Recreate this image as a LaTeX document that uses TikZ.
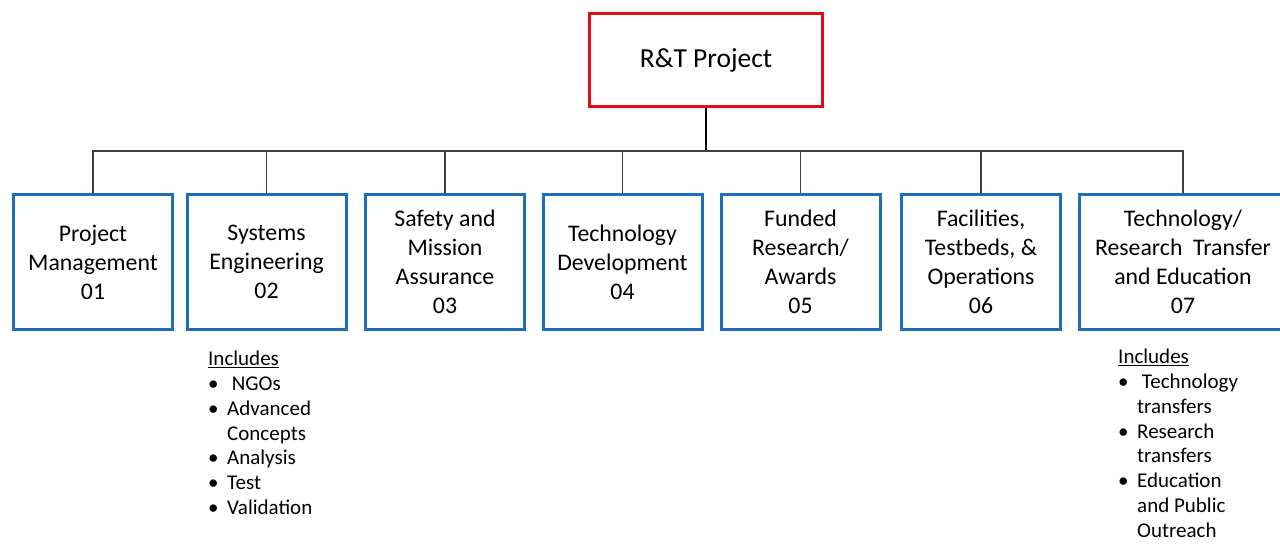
\documentclass[tikz,border=0pt]{standalone}
\usepackage{fontspec}
\setmainfont{Carlito}
\usetikzlibrary{positioning}
\definecolor{wbsblue}{RGB}{31,110,185}
\definecolor{wbsred}{RGB}{226,12,20}
\newcommand{\itm}{\makebox[19pt][l]{\textbullet}}

\begin{document}
\begin{tikzpicture}[x=1pt,y=-1pt,
    root/.style={draw=wbsred,line width=3pt,minimum width=233,minimum height=93,font=\fontsize{27.5}{32}\selectfont},%
    wbs/.style={draw=wbsblue,line width=3pt,minimum width=159,minimum height=135,align=center,font=\fontsize{23.8}{29}\selectfont},%
    inc/.style={anchor=north west,inner sep=0pt,align=left,font=\fontsize{21}{24.8}\selectfont},%
    link/.style={black!75,line width=1.2pt}]
    \useasboundingbox (0,0) rectangle (1280,544);
    \node[root] (T) at (706,60) {R\&T Project} ;
    \coordinate (bus) at (706,151);
    \node[wbs] (p01) at (93,262) {Project\\Management\\01} ;
    \node[wbs] (p02) at (266.5,262) {Systems\\Engineering\\02} ;
    \node[wbs] (p03) at (445,262) {Safety and\\Mission\\Assurance\\03} ;
    \node[wbs] (p04) at (622.5,262) {Technology\\Development\\04} ;
    \node[wbs] (p05) at (800.5,262) {Funded\\Research/\\Awards\\05} ;
    \node[wbs] (p06) at (981,262) {Facilities,\\Testbeds, \&\\Operations\\06} ;
    \node[wbs,minimum width=207] (p07) at (1183,262) {Technology/\\Research\ \ Transfer\\and Education\\07} ;

    \draw[black,line width=2pt] (T) -- (bus) ;
    \foreach \n in {01,02,03,04,05,06,07}
      \draw[link] (p\n.north) |- (bus) ;

    \node[inc] (inc02) at (208,351) {\underline{Includes}\\
      \itm\ NGOs\\ \itm Advanced\\ \hspace*{19pt}Concepts\\
      \itm Analysis\\ \itm Test\\ \itm Validation};
    \node[inc] (inc07) at (1118,349) {\underline{Includes}\\
      \itm\ Technology\\ \hspace*{19pt}transfers\\ \itm Research\\
      \hspace*{19pt}transfers\\ \itm Education\\ \hspace*{19pt}and Public\\
      \hspace*{19pt}Outreach};
\end{tikzpicture}
\end{document}
